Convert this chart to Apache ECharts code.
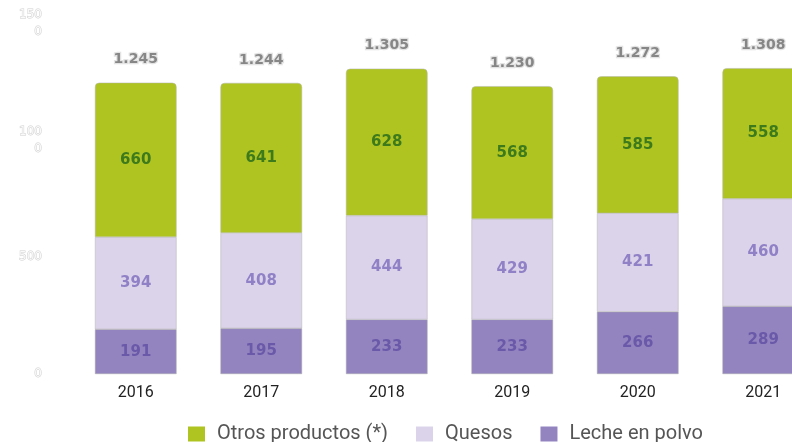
<!DOCTYPE html>
<html>
<head>
<meta charset="utf-8">
<script src="https://cdn.jsdelivr.net/npm/echarts@6/dist/echarts.min.js"></script>
<style>
  html, body { margin: 0; padding: 0; background: #fff; }
  #chart { width: 792px; height: 442px; }
</style>
</head>
<body>
<div id="chart"></div>
<script>
const years = ['2016', '2017', '2018', '2019', '2020', '2021']
const otros = [660, 641, 628, 568, 585, 558]
const quesos = [394, 408, 444, 429, 421, 460]
const leche = [191, 195, 233, 233, 266, 289]
const totals = [1245, 1244, 1305, 1230, 1272, 1308]
const yTicks = { 0: '0', 500: '500', 1000: '100\n0', 1500: '150\n0' }

const chart = echarts.init(document.getElementById('chart'))

const inside = color => ({
  show: true,
  position: 'inside',
  color: color,
  fontFamily: 'DejaVu Sans',
  fontWeight: 'bold',
  fontSize: 15
})

chart.setOption({
  animation: false,
  grid: { left: 73, top: 23, width: 753, bottom: 68, outerBoundsMode: 'none', containLabel: false },
  legend: {
    data: ['Otros productos (*)', 'Quesos', 'Leche en polvo'],
    left: 183,
    top: 419,
    itemWidth: 17,
    itemHeight: 15,
    itemGap: 28,
    icon: 'rect',
    itemStyle: { borderWidth: 0 },
    textStyle: { fontFamily: 'Roboto', fontSize: 20, color: '#555', padding: [0, 0, 0, 7] }
  },
  xAxis: {
    type: 'category',
    data: years,
    axisLine: { show: false },
    axisTick: { show: false },
    axisLabel: { color: '#222', fontFamily: 'Roboto', fontSize: 16, margin: 11 }
  },
  yAxis: {
    type: 'value',
    min: 0,
    max: 1500,
    interval: 500,
    splitLine: { show: false },
    axisLabel: {
      formatter: v => yTicks[v],
      color: '#fafafa',
      textBorderColor: '#cfcfcf',
      textBorderWidth: 1,
      fontFamily: 'DejaVu Sans',
      fontSize: 12,
      lineHeight: 17,
      margin: 31
    }
  },
  series: [
    {
      name: 'Leche en polvo',
      type: 'bar',
      stack: 'total',
      barWidth: '65%',
      data: leche,
      itemStyle: { color: '#9384c0', borderColor: '#aaa', borderWidth: 0.5 },
      label: inside('#6a58a8')
    },
    {
      name: 'Quesos',
      type: 'bar',
      stack: 'total',
      data: quesos,
      itemStyle: { color: '#dbd3ea', borderColor: '#b5b5b5', borderWidth: 0.5 },
      label: inside('#9080c6')
    },
    {
      name: 'Otros productos (*)',
      type: 'bar',
      stack: 'total',
      data: otros,
      itemStyle: { color: '#afc421', borderColor: '#b5b5b5', borderWidth: 0.5, borderRadius: [4, 4, 0, 0] },
      label: inside('#3d7a1c')
    },
    {
      name: 'total',
      type: 'scatter',
      data: totals,
      symbolSize: 0,
      silent: true,
      label: {
        show: true,
        position: 'top',
        distance: 16,
        formatter: p => (p.value / 1000).toFixed(3),
        color: '#6f6f6f',
        textBorderColor: '#dcdcdc',
        textBorderWidth: 2.5,
        fontFamily: 'DejaVu Sans',
        fontWeight: 'bold',
        fontSize: 14
      }
    }
  ]
})
</script>
</body>
</html>
